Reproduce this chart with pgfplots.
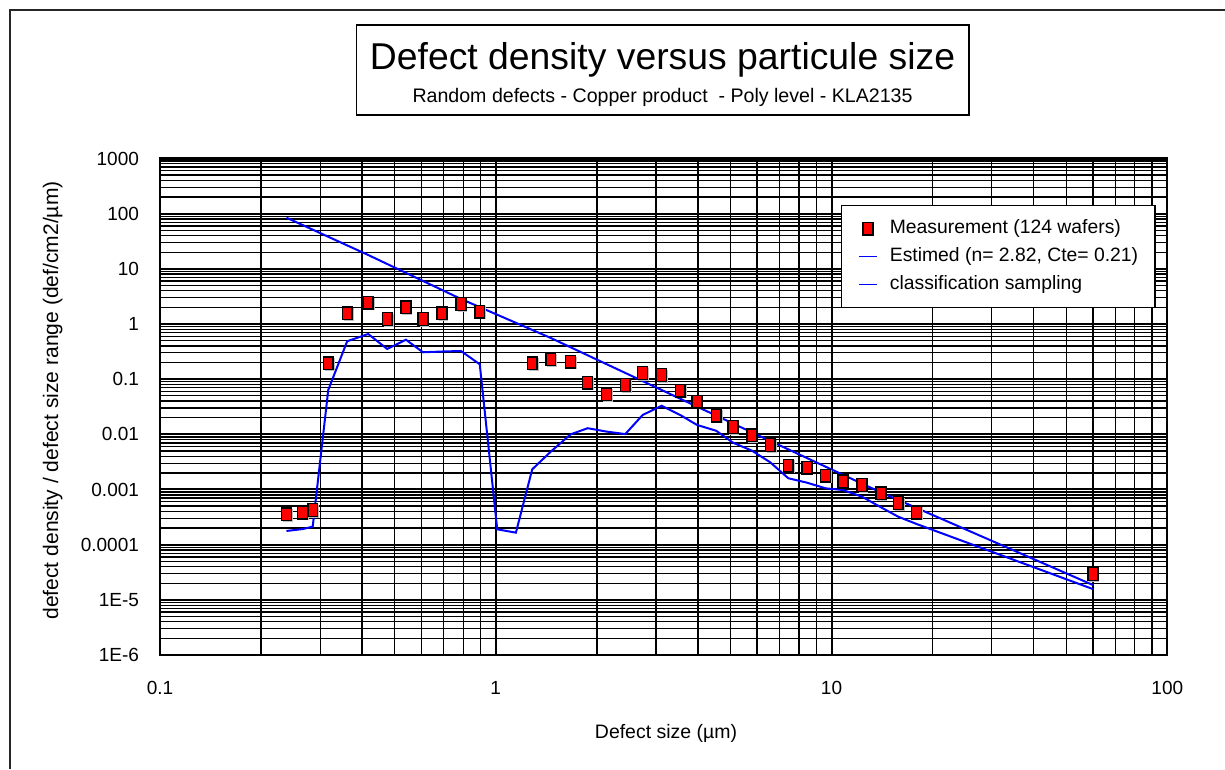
\documentclass[border=0pt]{standalone}
\usepackage{fontspec}
\setmainfont{Liberation Sans}
\usepackage{pgfplots}
\pgfplotsset{compat=1.18}

% Excel-like red rectangle with a grey shadow
\pgfdeclareplotmark{xlrect}{%
  \begin{pgfscope}
    \pgfsetfillcolor{black!25}
    \pgfpathrectangle{\pgfpoint{-2.6pt}{-5.7pt}}{\pgfpoint{7.4pt}{9.6pt}}
    \pgfusepathqfill
  \end{pgfscope}
  \pgfpathrectangle{\pgfpoint{-3.7pt}{-4.8pt}}{\pgfpoint{7.4pt}{9.6pt}}
  \pgfusepathqfillstroke}

\begin{document}
\begin{tikzpicture}
\path[use as bounding box] (0pt,0pt) rectangle (918.75pt,576.75pt);
\draw[line width=1.5pt, black!85] (7.5pt,0pt) -- (7.5pt,569.25pt) -- (918.75pt,569.25pt);

% title box
\draw[line width=1.1pt] (267.5pt,490.5pt) rectangle (726.75pt,558pt);
\node[font=\fontsize{28}{32}\selectfont] at (496.9pt,531.5pt) {Defect density versus particule size};
\node[font=\fontsize{14.7}{17}\selectfont] at (496.9pt,504pt) {Random defects - Copper product \ - Poly level - KLA2135};

\node[rotate=90, font=\fontsize{15.8}{18}\selectfont] at (39.5pt,276.4pt) {defect density / defect size range (def/cm2/µm)};
\node[font=\fontsize{14.6}{17}\selectfont] at (499.5pt,27pt) {Defect size (µm)};

\begin{axis}[
  at={(120pt,85.5pt)}, anchor=south west, scale only axis,
  width=755.5pt, height=372.4pt,
  xmode=log, ymode=log,
  xmin=0.1, xmax=100, ymin=1e-6, ymax=1000,
  xtick={0.1,1,10,100}, xticklabels={0.1,1,10,100},
  minor xtick={0.2,0.3,0.4,0.5,0.6,0.7,0.8,0.9,2,3,4,5,6,7,8,9,20,30,40,50,60,70,80,90},
  ytick={1e-6,1e-5,1e-4,1e-3,1e-2,1e-1,1,10,100,1000},
  yticklabels={1E-6,1E-5,0.0001,0.001,0.01,0.1,1,10,100,1000},
  minor ytick={2e-6,3e-6,4e-6,5e-6,6e-6,7e-6,8e-6,9e-6,
               2e-5,3e-5,4e-5,5e-5,6e-5,7e-5,8e-5,9e-5,
               2e-4,3e-4,4e-4,5e-4,6e-4,7e-4,8e-4,9e-4,
               0.002,0.003,0.004,0.005,0.006,0.007,0.008,0.009,
               0.02,0.03,0.04,0.05,0.06,0.07,0.08,0.09,
               0.2,0.3,0.4,0.5,0.6,0.7,0.8,0.9,
               2,3,4,5,6,7,8,9,
               20,30,40,50,60,70,80,90,
               200,300,400,500,600,700,800,900},
  tick style={draw=none},
  xmajorgrids, xminorgrids, ymajorgrids, yminorgrids,
  major grid style={black, line width=1.5pt},
  minor grid style={black, line width=1pt},
  axis line style={black, line width=1.6pt},
  ticklabel style={font=\fontsize{14.25}{17}\selectfont},
  xticklabel shift=16.5pt, yticklabel shift=12.25pt,
  legend style={at={(0.6758,0.9063)}, anchor=north west, draw=black, line width=0.9pt,
    fill=white, inner xsep=12.7pt, inner ysep=10.6pt, row sep=7.3pt, column sep=9.2pt,
    font=\fontsize{14.5}{17}\selectfont,
    nodes={inner sep=0pt, text height=10.5pt, text depth=3.1pt}},
  legend cell align=left,
  legend image code/.code={\draw[#1, line width=1pt] (0pt,0pt) -- (13.5pt,0pt);},
]

\addlegendimage{only marks, mark=xlrect, mark options={fill=red, draw=black, line width=1.1pt},
  legend image code/.code={\draw[mark repeat=2,mark phase=2,##1] plot coordinates {(0pt,0pt) (6.75pt,0pt) (13.5pt,0pt)};}}
\addlegendentry{Measurement (124 wafers)}

% estimated power law
\addplot[blue, line width=1.5pt] coordinates {
  (0.238,84.5) (0.417,17.8) (0.788,2.84) (1.458,0.558)
  (3.119,0.0636) (6.569,0.00757) (14.03,8.86e-4) (60.0,1.86e-5)
};
\addlegendentry{Estimed (n= 2.82, Cte= 0.21)}

% classification sampling
\addplot[blue, line width=1.5pt] coordinates {
  (0.238,1.77e-4) (0.266,1.92e-4) (0.285,2.12e-4) (0.317,0.0636) (0.361,0.486)
  (0.417,0.659) (0.475,0.352) (0.540,0.519) (0.607,0.307) (0.692,0.317)
  (0.788,0.324) (0.896,0.186) (1.010,1.90e-4) (1.148,1.65e-4) (1.284,0.00232)
  (1.458,0.00485) (1.671,0.0100) (1.878,0.0129) (2.139,0.0112) (2.430,0.0101)
  (2.738,0.0224) (3.119,0.0330) (3.543,0.0224) (3.974,0.0148) (4.535,0.0116)
  (5.086,0.00706) (5.794,0.00505) (6.569,0.00311) (7.432,0.00160) (8.447,0.00133)
  (9.603,0.00105) (10.81,9.80e-4) (12.32,7.41e-4) (14.03,4.76e-4) (15.80,3.21e-4)
  (17.92,2.37e-4) (60.0,1.57e-5)
};
\addlegendentry{classification sampling}

% measurement
\addplot[only marks, mark=xlrect, mark options={fill=red, draw=black, line width=1.1pt}, forget plot] coordinates {
  (0.238,3.55e-4) (0.266,3.80e-4) (0.285,4.25e-4) (0.317,0.194) (0.361,1.56)
  (0.417,2.43) (0.475,1.23) (0.540,2.01) (0.607,1.23) (0.692,1.56)
  (0.788,2.30) (0.896,1.67) (1.284,0.194) (1.458,0.229) (1.671,0.207)
  (1.878,0.0863) (2.139,0.0532) (2.430,0.0784) (2.738,0.129) (3.119,0.119)
  (3.543,0.0618) (3.974,0.0390) (4.535,0.0218) (5.086,0.0136) (5.794,0.00961)
  (6.569,0.00641) (7.432,0.00270) (8.447,0.00249) (9.603,0.00178) (10.81,0.00139)
  (12.32,0.00121) (14.03,8.54e-4) (15.80,5.69e-4) (17.92,3.83e-4) (60.0,2.94e-5)
};
\end{axis}
\end{tikzpicture}
\end{document}
